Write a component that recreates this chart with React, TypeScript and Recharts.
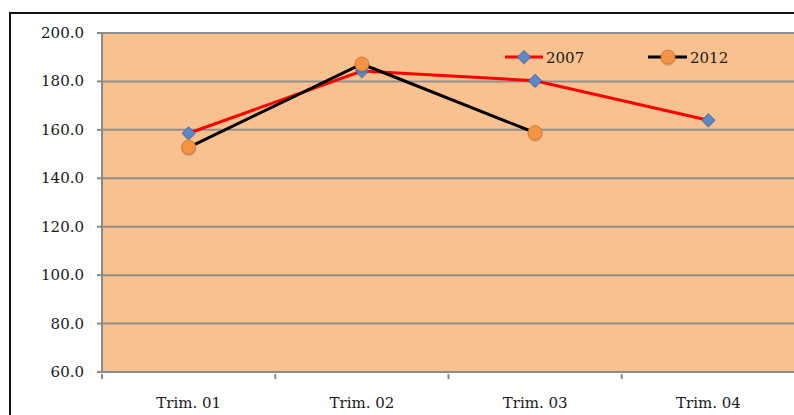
import React from 'react';
import { LineChart, Line, XAxis, YAxis, CartesianGrid } from 'recharts';

const categories = ['Trim. 01', 'Trim. 02', 'Trim. 03', 'Trim. 04'];
const series2007 = [158.6, 184.3, 180.3, 164.0];
const series2012: (number | null)[] = [152.8, 187.2, 158.8, null];
const yTicks = [60, 80, 100, 120, 140, 160, 180, 200];

const data = categories.map((c, i) => ({ name: c, y2007: series2007[i], y2012: series2012[i] }));

const FONT = '"DejaVu Serif", serif';
const PLOT_W = 693;

const Diamond = (props: any) => {
  const { cx, cy } = props;
  if (cx == null || cy == null) return null;
  const s = 6.5;
  return (
    <g>
      <polygon points={`${cx},${cy - s + 1.5} ${cx + s},${cy + 1.5} ${cx},${cy + s + 1.5} ${cx - s},${cy + 1.5}`} fill="rgba(0,0,0,0.15)" />
      <polygon points={`${cx},${cy - s} ${cx + s},${cy} ${cx},${cy + s} ${cx - s},${cy}`} fill="#5B89C8" stroke="#3F6CA8" strokeWidth={1} />
    </g>
  );
};

const Ball = (props: any) => {
  const { cx, cy, value } = props;
  if (cx == null || cy == null || value == null) return null;
  return (
    <g>
      <circle cx={cx} cy={cy + 1.5} r={7.5} fill="rgba(0,0,0,0.15)" />
      <circle cx={cx} cy={cy} r={7} fill="#F29444" stroke="#D97A2C" strokeWidth={1} />
    </g>
  );
};

const XTick = (props: any) => {
  const { x, y, payload } = props;
  const half = PLOT_W / categories.length / 2;
  return (
    <g>
      <line x1={x - half} x2={x - half} y1={y - 6} y2={y - 1} stroke="#8a8a8a" strokeWidth={2} />
      <text x={x} y={y + 28} textAnchor="middle" fontFamily={FONT} fontSize={15} fill="#1a1a1a">
        {payload.value}
      </text>
    </g>
  );
};

const YTick = (props: any) => {
  const { x, y, payload } = props;
  return (
    <text x={x} y={y + 5} textAnchor="end" fontFamily={FONT} fontSize={15} fill="#1a1a1a">
      {Number(payload.value).toFixed(1)}
    </text>
  );
};

export default function App() {
  return (
    <div style={{ position: 'absolute', left: 0, top: 0, width: 794, height: 415, background: '#fff', overflow: 'hidden' }}>
      <div style={{ position: 'absolute', left: 9, top: 12, width: 800, height: 420, border: '2px solid #111', boxSizing: 'border-box' }} />
      <div style={{ position: 'absolute', left: 0, top: 0 }}>
        <LineChart width={800} height={415} data={data} margin={{ top: 33, right: 5, bottom: 0, left: 0 }}>
          <CartesianGrid vertical={false} fill="#F9C090" stroke="#8f8f8f" strokeWidth={2} fillOpacity={1} />
          <XAxis
            dataKey="name"
            scale="band"
            axisLine={{ stroke: '#8a8a8a', strokeWidth: 2 }}
            tickLine={false}
            tick={<XTick />}
            interval={0}
            height={43}
          />
          <YAxis
            domain={[60, 200]}
            ticks={yTicks}
            axisLine={{ stroke: '#8a8a8a', strokeWidth: 2 }}
            tickLine={{ stroke: '#8a8a8a', strokeWidth: 2 }}
            tickSize={5}
            tickMargin={13}
            tick={<YTick />}
            width={102}
            allowDataOverflow
          />
          <Line dataKey="y2007" stroke="#FF0000" strokeWidth={3} dot={<Diamond />} isAnimationActive={false} />
          <Line dataKey="y2012" stroke="#000" strokeWidth={3} dot={<Ball />} isAnimationActive={false} connectNulls={false} />
        </LineChart>
      </div>
      <svg style={{ position: 'absolute', left: 0, top: 0 }} width={794} height={415}>
        <line x1={505} x2={543} y1={57} y2={57} stroke="#FF0000" strokeWidth={3} />
        <Diamond cx={524} cy={57} />
        <text x={546} y={63} fontFamily={FONT} fontSize={15} fill="#1a1a1a">2007</text>
        <line x1={648} x2={687} y1={57} y2={57} stroke="#000" strokeWidth={3} />
        <Ball cx={668} cy={57} value={1} />
        <text x={690} y={63} fontFamily={FONT} fontSize={15} fill="#1a1a1a">2012</text>
      </svg>
    </div>
  );
}
